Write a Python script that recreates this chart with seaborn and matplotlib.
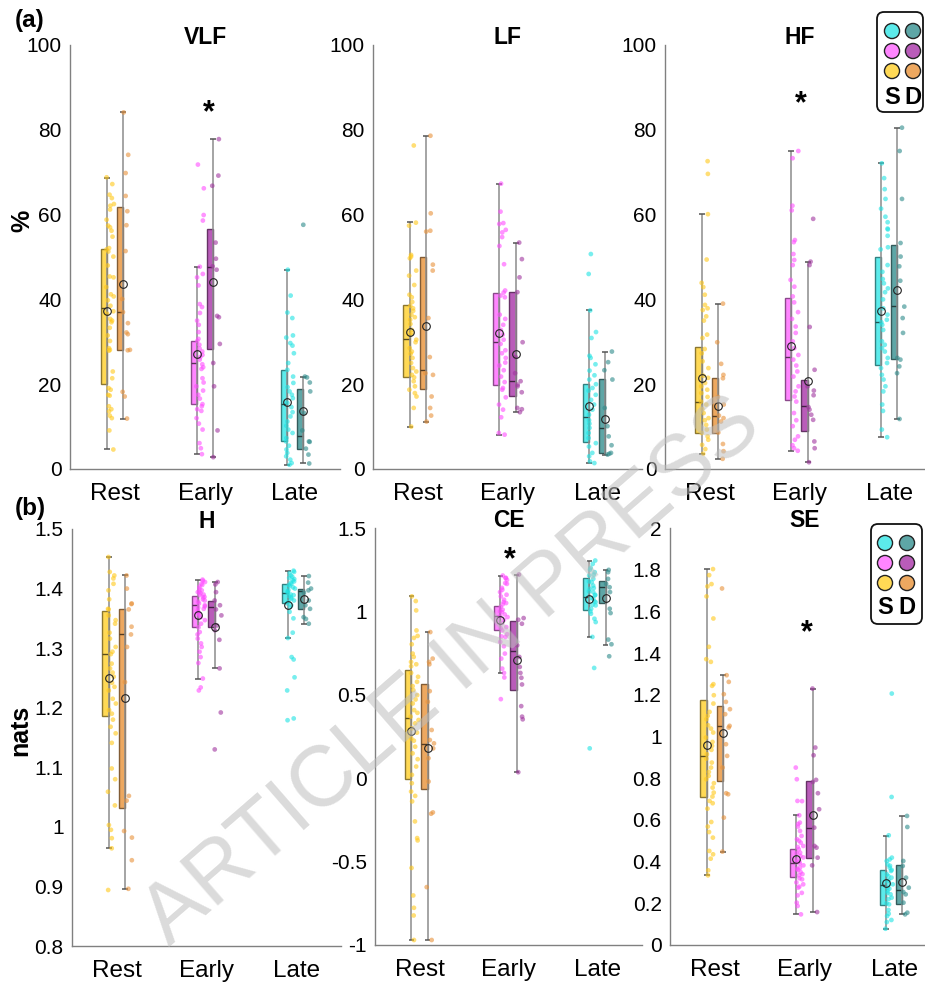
import numpy as np
import pandas as pd
import matplotlib
matplotlib.use("Agg")
import matplotlib.pyplot as plt
from matplotlib.patches import FancyBboxPatch
from matplotlib.ticker import FixedLocator, FuncFormatter
from matplotlib.colors import to_rgb
import seaborn as sns

sns.set_style("white")
plt.rcParams["font.family"] = ["Liberation Sans", "DejaVu Sans"]
plt.rcParams["text.color"] = "black"
plt.rcParams["axes.labelcolor"] = "black"
plt.rcParams["axes.titlecolor"] = "black"

PHASES = ["Rest", "Early", "Late"]
CONDS = ["S", "D"]
GROUPS = [f"{p} {c}" for p in PHASES for c in CONDS]

# ---------------- individual observations ----------------
vlf_rest_s = [68.8, 67.2, 64.7, 63.9, 62.5, 62.1, 61.2, 58.8, 57.4, 57.0, 56.2, 54.8, 52.1, 51.8, 51.3, 50.1,
              48.0, 45.4, 45.2, 42.9, 41.2, 40.7, 39.8, 38.5, 37.2, 36.6, 35.4, 35.0, 34.6, 33.3, 31.5, 30.2,
              28.5, 28.1, 27.9, 23.0, 21.4, 19.1, 18.7, 17.5, 17.3, 14.8, 14.1, 13.6, 12.6, 12.0, 9.1, 4.6]
vlf_rest_d = [84.1, 74.1, 69.8, 64.4, 60.8, 57.5, 51.4, 40.1, 37.0, 34.4, 32.2, 31.8, 28.1, 28.0, 18.2, 17.1, 11.9]
vlf_early_s = [71.8, 66.2, 59.9, 58.6, 47.7, 46.0, 45.2, 43.3, 38.9, 38.2, 36.8, 35.0, 34.0, 32.3, 30.7, 30.2,
               29.3, 28.4, 27.7, 26.9, 26.4, 25.8, 24.7, 24.0, 23.6, 21.4, 20.4, 19.5, 18.5, 17.5, 16.6, 15.3,
               14.8, 14.1, 13.7, 12.0, 10.7, 9.3, 6.1, 4.9, 3.5]
vlf_early_d = [77.8, 69.2, 66.8, 53.4, 49.6, 47.8, 47.0, 36.1, 35.8, 29.5, 25.0, 19.5, 9.1, 2.8]
vlf_late_s = [47.0, 40.9, 36.9, 35.6, 31.5, 31.0, 29.7, 29.1, 27.3, 25.0, 23.4, 21.8, 20.3, 19.3, 18.3, 17.5,
              16.7, 15.6, 14.6, 13.4, 12.4, 11.2, 10.2, 9.3, 8.5, 7.3, 6.5, 5.5, 4.6, 3.8, 3.0, 2.2, 1.4, 1.0]
vlf_late_d = [57.6, 21.8, 21.6, 20.4, 18.3, 13.2, 9.1, 6.5, 6.4, 4.8, 3.4, 1.3]

lf_rest_s = [76.3, 58.1, 57.4, 50.5, 50.1, 49.7, 46.8, 45.6, 43.4, 41.1, 40.5, 39.4, 38.5, 37.9, 37.3, 36.4,
             35.8, 35.2, 34.2, 32.8, 32.1, 31.7, 30.5, 29.9, 28.5, 27.7, 27.2, 26.2, 25.0, 23.8, 23.0, 22.2,
             21.6, 20.7, 19.5, 18.7, 17.9, 17.1, 14.4, 10.0]
lf_rest_d = [78.6, 60.3, 56.2, 56.0, 48.2, 46.8, 35.6, 26.4, 22.6, 22.2, 17.1, 14.4, 12.6, 11.2]
lf_early_s = [67.3, 60.7, 58.0, 57.8, 56.4, 55.8, 54.7, 52.6, 48.3, 42.1, 41.6, 40.9, 40.5, 36.4, 35.4, 34.0,
              32.8, 31.7, 30.5, 29.5, 28.0, 27.3, 26.2, 25.1, 24.4, 23.3, 21.8, 20.5, 19.1, 18.7, 16.9, 15.2,
              14.0, 12.2, 8.5, 8.1]
lf_early_d = [53.4, 49.5, 45.2, 41.7, 29.9, 26.4, 22.6, 20.7, 19.9, 19.5, 18.1, 14.4, 14.1, 13.4]
lf_late_s = [50.7, 46.0, 37.4, 32.3, 30.9, 26.7, 26.2, 24.7, 23.2, 22.1, 21.1, 20.0, 19.1, 18.5, 17.5, 16.3,
             15.2, 14.0, 12.8, 11.5, 10.7, 9.7, 8.5, 7.3, 6.1, 5.3, 3.8, 3.0, 1.8, 1.4]
lf_late_d = [27.7, 25.2, 23.3, 21.1, 14.4, 10.1, 7.7, 5.6, 3.8, 3.6, 3.4]

hf_rest_s = [72.6, 69.6, 60.1, 49.4, 43.9, 42.9, 41.1, 38.7, 37.9, 37.5, 36.0, 35.0, 31.7, 30.9, 28.3, 27.3,
             25.4, 23.8, 22.0, 21.5, 20.3, 19.5, 18.7, 17.9, 17.0, 15.9, 15.2, 14.1, 13.2, 12.0, 11.5, 10.4,
             9.3, 8.5, 7.7, 6.9, 5.7, 4.7, 3.6]
hf_rest_d = [39.0, 29.9, 24.8, 22.2, 21.4, 17.0, 15.2, 12.6, 12.0, 11.2, 8.6, 5.9, 4.2, 2.4]
hf_early_s = [75.0, 73.3, 62.1, 61.0, 54.0, 53.5, 50.7, 49.3, 48.1, 44.6, 43.0, 40.7, 39.3, 37.0, 35.4, 33.6,
              32.1, 30.1, 28.5, 26.9, 25.8, 24.4, 23.0, 21.8, 19.5, 18.3, 17.1, 15.9, 13.2, 11.5, 10.1, 7.7,
              6.9, 5.6, 4.9, 4.3]
hf_early_d = [59.0, 48.9, 48.1, 33.5, 23.4, 19.5, 18.5, 17.4, 14.6, 14.0, 12.8, 11.6, 6.5, 4.9, 1.6]
hf_late_s = [72.1, 68.6, 66.0, 63.7, 61.4, 59.5, 58.2, 56.7, 56.5, 55.0, 52.3, 51.8, 48.1, 46.5, 44.8, 43.8,
             42.6, 41.7, 40.0, 37.9, 36.4, 35.2, 34.6, 34.0, 32.8, 30.1, 29.3, 28.5, 27.7, 26.2, 25.0, 23.8,
             22.2, 21.1, 19.5, 18.3, 15.2, 13.7, 9.3, 7.5]
hf_late_d = [80.5, 75.0, 63.7, 53.3, 50.1, 47.8, 44.4, 38.3, 35.6, 32.1, 26.2, 25.8, 24.2, 22.6, 11.8]

h_rest_s = [1.453, 1.428, 1.422, 1.417, 1.408, 1.397, 1.382, 1.366, 1.365, 1.355, 1.347, 1.341, 1.326, 1.316,
            1.302, 1.294, 1.290, 1.274, 1.266, 1.259, 1.252, 1.242, 1.235, 1.229, 1.215, 1.207, 1.196, 1.190,
            1.180, 1.168, 1.157, 1.141, 1.098, 1.080, 1.059, 1.036, 1.003, 0.995, 0.981, 0.964, 0.894]
h_rest_d = [1.422, 1.400, 1.375, 1.374, 1.365, 1.336, 1.323, 1.302, 1.243, 1.052, 1.044, 0.993, 0.982, 0.944, 0.896]
h_early_s = [1.415, 1.413, 1.411, 1.408, 1.406, 1.403, 1.400, 1.397, 1.395, 1.394, 1.392, 1.390, 1.389, 1.386,
             1.385, 1.382, 1.380, 1.378, 1.375, 1.372, 1.370, 1.368, 1.366, 1.363, 1.360, 1.358, 1.355, 1.352,
             1.347, 1.341, 1.335, 1.327, 1.323, 1.316, 1.308, 1.302, 1.294, 1.285, 1.275, 1.249, 1.234, 1.229]
h_early_d = [1.411, 1.407, 1.394, 1.380, 1.372, 1.365, 1.355, 1.338, 1.330, 1.314, 1.266, 1.192, 1.130]
h_late_s = [1.430, 1.428, 1.426, 1.422, 1.420, 1.418, 1.416, 1.414, 1.412, 1.410, 1.408, 1.406, 1.404, 1.402,
            1.400, 1.397, 1.395, 1.393, 1.390, 1.389, 1.387, 1.385, 1.383, 1.380, 1.378, 1.375, 1.372, 1.369,
            1.361, 1.350, 1.326, 1.317, 1.285, 1.281, 1.251, 1.229, 1.182, 1.179]
h_late_d = [1.421, 1.410, 1.400, 1.397, 1.393, 1.380, 1.372, 1.366, 1.352, 1.349, 1.341]

ce_rest_s = [1.090, 1.062, 1.006, 0.886, 0.853, 0.841, 0.803, 0.747, 0.727, 0.697, 0.683, 0.671, 0.631, 0.608,
             0.578, 0.552, 0.528, 0.498, 0.472, 0.448, 0.408, 0.392, 0.369, 0.349, 0.329, 0.299, 0.273, 0.239,
             0.225, 0.189, 0.149, 0.114, 0.070, 0.020, -0.030, -0.080, -0.106, -0.139, -0.259, -0.359, -0.373,
             -0.538, -0.703, -0.777, -0.823, -0.970]
ce_rest_d = [0.876, 0.717, 0.697, 0.683, 0.522, 0.458, 0.289, 0.229, 0.209, 0.179, 0.120, -0.020, -0.205,
             -0.213, -0.653, -0.970]
ce_early_s = [1.215, 1.201, 1.200, 1.189, 1.170, 1.165, 1.141, 1.130, 1.116, 1.100, 1.090, 1.070, 1.056, 1.050,
              1.042, 1.026, 1.010, 1.000, 0.996, 0.982, 0.970, 0.966, 0.950, 0.930, 0.906, 0.900, 0.886, 0.863,
              0.850, 0.847, 0.817, 0.791, 0.747, 0.717, 0.657, 0.631, 0.604, 0.474]
ce_early_d = [1.221, 0.960, 0.950, 0.926, 0.797, 0.727, 0.667, 0.631, 0.602, 0.562, 0.432, 0.369, 0.353, 0.036]
ce_late_s = [1.305, 1.285, 1.261, 1.250, 1.235, 1.220, 1.215, 1.195, 1.180, 1.175, 1.155, 1.140, 1.135, 1.120,
             1.116, 1.100, 1.096, 1.080, 1.076, 1.060, 1.056, 1.040, 1.036, 1.016, 1.000, 0.986, 0.956, 0.936,
             0.847, 0.661, 0.179]
ce_late_d = [1.249, 1.235, 1.195, 1.165, 1.145, 1.116, 1.016, 0.990, 0.831, 0.803, 0.731]

se_rest_s = [1.803, 1.774, 1.731, 1.720, 1.672, 1.566, 1.430, 1.371, 1.358, 1.251, 1.243, 1.198, 1.158, 1.118,
             1.099, 1.083, 1.054, 1.038, 1.019, 0.995, 0.974, 0.955, 0.936, 0.915, 0.894, 0.875, 0.851, 0.830,
             0.811, 0.795, 0.776, 0.755, 0.731, 0.712, 0.691, 0.680, 0.654, 0.590, 0.568, 0.542, 0.515, 0.451,
             0.435, 0.414, 0.358, 0.334]
se_rest_d = [1.710, 1.294, 1.262, 1.203, 1.166, 1.131, 1.107, 1.051, 1.043, 0.963, 0.907, 0.851, 0.728, 0.723,
             0.611, 0.448]
se_early_s = [0.851, 0.795, 0.691, 0.690, 0.622, 0.587, 0.580, 0.568, 0.547, 0.523, 0.507, 0.500, 0.491, 0.475,
              0.470, 0.459, 0.443, 0.440, 0.427, 0.420, 0.411, 0.400, 0.398, 0.390, 0.382, 0.370, 0.366, 0.360,
              0.350, 0.340, 0.334, 0.320, 0.315, 0.300, 0.291, 0.280, 0.275, 0.250, 0.238, 0.203, 0.187, 0.147]
se_early_d = [1.230, 0.947, 0.910, 0.792, 0.782, 0.728, 0.651, 0.563, 0.475, 0.467, 0.419, 0.382, 0.158]
se_late_s = [1.206, 0.710, 0.526, 0.419, 0.410, 0.403, 0.387, 0.380, 0.371, 0.360, 0.355, 0.339, 0.330, 0.323,
             0.310, 0.307, 0.291, 0.290, 0.275, 0.270, 0.259, 0.250, 0.243, 0.227, 0.220, 0.200, 0.195, 0.168,
             0.150, 0.139, 0.120, 0.110, 0.078]
se_late_d = [0.619, 0.566, 0.403, 0.379, 0.323, 0.275, 0.254, 0.243, 0.203, 0.155, 0.147]

# ---------------- box summaries (order: Rest S, Rest D, Early S, Early D, Late S, Late D) ----------------
vlf_q1 = [20.1, 28.1, 15.3, 28.4, 6.5, 4.8]
vlf_med = [37.9, 37.0, 25.0, 47.6, 15.4, 7.9]
vlf_q3 = [51.8, 61.7, 30.1, 56.7, 23.4, 18.9]
vlf_lo = [4.6, 11.9, 3.5, 2.8, 1.0, 1.3]
vlf_hi = [68.7, 84.1, 47.7, 77.8, 47.0, 21.8]
vlf_mean = [37.3, 43.6, 27.2, 44.0, 15.9, 13.7]

lf_q1 = [21.8, 18.9, 19.8, 17.1, 6.3, 3.8]
lf_med = [30.6, 23.4, 29.9, 20.7, 12.2, 9.7]
lf_q3 = [38.6, 50.1, 41.5, 41.7, 20.0, 21.2]
lf_lo = [10.0, 11.2, 8.1, 13.4, 1.4, 3.4]
lf_hi = [58.2, 78.6, 67.3, 53.4, 37.4, 27.7]
lf_mean = [32.2, 33.8, 32.0, 27.2, 14.8, 11.9]

hf_q1 = [8.5, 8.5, 16.3, 8.9, 24.6, 25.9]
hf_med = [15.9, 12.4, 26.3, 14.9, 34.6, 38.5]
hf_q3 = [28.7, 21.4, 40.3, 21.1, 49.9, 52.9]
hf_lo = [3.6, 2.4, 4.3, 1.6, 7.5, 11.8]
hf_hi = [60.1, 39.0, 75.0, 48.9, 72.1, 80.5]
hf_mean = [21.4, 14.8, 29.1, 20.7, 37.2, 42.1]

h_q1 = [1.186, 1.031, 1.335, 1.335, 1.375, 1.366]
h_med = [1.291, 1.323, 1.372, 1.369, 1.392, 1.396]
h_q3 = [1.362, 1.366, 1.388, 1.379, 1.407, 1.399]
h_lo = [0.964, 0.896, 1.249, 1.266, 1.317, 1.341]
h_hi = [1.453, 1.422, 1.415, 1.411, 1.430, 1.421]
h_mean = [1.250, 1.217, 1.355, 1.336, 1.372, 1.383]

ce_q1 = [-0.006, -0.066, 0.886, 0.528, 1.006, 1.050]
ce_med = [0.363, 0.205, 0.970, 0.763, 1.086, 1.145]
ce_q3 = [0.651, 0.562, 1.032, 0.942, 1.199, 1.181]
ce_lo = [-0.970, -0.970, 0.631, 0.036, 0.847, 0.801]
ce_hi = [1.090, 0.876, 1.215, 1.221, 1.301, 1.249]
ce_mean = [0.281, 0.183, 0.946, 0.711, 1.074, 1.082]

se_q1 = [0.712, 0.787, 0.326, 0.419, 0.192, 0.198]
se_med = [0.907, 1.048, 0.392, 0.563, 0.288, 0.262]
se_q3 = [1.176, 1.147, 0.462, 0.787, 0.360, 0.384]
se_lo = [0.334, 0.448, 0.147, 0.158, 0.078, 0.147]
se_hi = [1.803, 1.294, 0.622, 1.230, 0.523, 0.619]
se_mean = [0.958, 1.018, 0.411, 0.622, 0.299, 0.302]

# ---------------- styling ----------------
FILL = {"Rest S": "#FFD955", "Rest D": "#EDA860", "Early S": "#FF85FF",
        "Early D": "#B95CB9", "Late S": "#5CEBEB", "Late D": "#5EA6A6"}
DOT = {"Rest S": "#FFC81A", "Rest D": "#E8923A", "Early S": "#FF4DFF",
       "Early D": "#A0359F", "Late S": "#1EE3E3", "Late D": "#2E8B8B"}
AXIS_GRAY = "#808080"

W, H = 925, 983
fig = plt.figure(figsize=(W / 100, H / 100), dpi=100)
fig.patch.set_facecolor("white")


def rect(l, t, r, b):
    return [l / W, 1 - b / H, (r - l) / W, (b - t) / H]


OFF = {"S": -0.09, "D": 0.09}
BOX_W = 0.07
CAP = 0.033
DOT_SHIFT = 0.035


def darker(c, f=0.6):
    return tuple(np.array(to_rgb(c)) * f)


def fmt(v, _):
    return f"{v:g}"


def panel(ax, title, samples, q1, med, q3, lo, hi, mean, ylim, major, minor, star):
    for k, g in enumerate(GROUPS):
        phase, cond = g.split()
        pos = PHASES.index(phase) + OFF[cond]
        stats = dict(q1=q1[k], med=med[k], q3=q3[k], whislo=lo[k], whishi=hi[k], fliers=[])
        ax.bxp([stats], positions=[pos - BOX_W / 2], widths=BOX_W, showcaps=False,
               showfliers=False, patch_artist=True, manage_ticks=False,
               boxprops=dict(facecolor=FILL[g], edgecolor=darker(FILL[g], 0.55), linewidth=1.0),
               medianprops=dict(color=darker(FILL[g], 0.35), linewidth=1.0),
               whiskerprops=dict(visible=False), zorder=2)
        ax.vlines(pos, lo[k], hi[k], colors="#8c8c8c", linewidth=1.1, zorder=2.5)
        ax.hlines([lo[k], hi[k]], pos - CAP, pos + CAP, colors="#555555", linewidth=1.1, zorder=2.5)
        ax.plot([pos], [mean[k]], marker="o", ms=5.5, mfc="none", mec="#222222", mew=0.8, zorder=5)

    rows = []
    for g, vals in zip(GROUPS, samples):
        phase, cond = g.split()
        x = PHASES.index(phase) + OFF[cond] + DOT_SHIFT
        rows += [(x, v, g) for v in vals]
    df = pd.DataFrame(rows, columns=["x", "value", "group"])
    sns.stripplot(data=df, x="x", y="value", hue="group", hue_order=GROUPS, palette=DOT,
                  native_scale=True, orient="x", jitter=0.25, size=3.4, alpha=0.6,
                  linewidth=0, legend=False, ax=ax, zorder=3)

    ax.set_xlim(-0.5, 2.5)
    ax.set_xticks(range(len(PHASES)))
    ax.set_xticklabels(PHASES)
    ax.set_ylim(*ylim)
    ax.yaxis.set_major_locator(FixedLocator(major))
    ax.yaxis.set_major_formatter(FuncFormatter(fmt))
    if minor:
        ax.yaxis.set_minor_locator(FixedLocator(minor))
    ax.set_xlabel("")
    ax.set_ylabel("")
    for s in ("top", "right"):
        ax.spines[s].set_visible(False)
    for s in ("left", "bottom"):
        ax.spines[s].set_color(AXIS_GRAY)
        ax.spines[s].set_linewidth(1.0)
    ax.tick_params(axis="both", which="both", direction="in", color=AXIS_GRAY, width=0.9)
    ax.tick_params(axis="both", which="major", length=5)
    ax.tick_params(axis="y", which="minor", length=4)
    ax.tick_params(axis="y", labelsize=15, pad=6, labelcolor="black")
    ax.tick_params(axis="x", labelsize=17.5, pad=10, labelcolor="black")
    ax.set_title(title, fontsize=16.5, fontweight="bold", pad=1, color="black")
    if star is not None:
        ax.text(star[0], star[1], "*", ha="center", va="center", fontsize=22,
                fontweight="bold", color="black")


pct_major = [0, 20, 40, 60, 80, 100]
pct_minor = [10, 30, 50, 70, 90]

panels = [
    ("VLF", [vlf_rest_s, vlf_rest_d, vlf_early_s, vlf_early_d, vlf_late_s, vlf_late_d],
     (vlf_q1, vlf_med, vlf_q3, vlf_lo, vlf_hi, vlf_mean), (0, 100), pct_major, pct_minor,
     (1.045, 83.8), (70, 45, 340, 469)),
    ("LF", [lf_rest_s, lf_rest_d, lf_early_s, lf_early_d, lf_late_s, lf_late_d],
     (lf_q1, lf_med, lf_q3, lf_lo, lf_hi, lf_mean), (0, 100), pct_major, pct_minor,
     None, (373, 45, 642, 469)),
    ("HF", [hf_rest_s, hf_rest_d, hf_early_s, hf_early_d, hf_late_s, hf_late_d],
     (hf_q1, hf_med, hf_q3, hf_lo, hf_hi, hf_mean), (0, 100), pct_major, pct_minor,
     (1.01, 86.0), (665, 45, 934, 469)),
    ("H", [h_rest_s, h_rest_d, h_early_s, h_early_d, h_late_s, h_late_d],
     (h_q1, h_med, h_q3, h_lo, h_hi, h_mean), (0.8, 1.5),
     [0.8, 0.9, 1.0, 1.1, 1.2, 1.3, 1.4, 1.5], None, None, (72, 529, 341, 946)),
    ("CE", [ce_rest_s, ce_rest_d, ce_early_s, ce_early_d, ce_late_s, ce_late_d],
     (ce_q1, ce_med, ce_q3, ce_lo, ce_hi, ce_mean), (-1, 1.5),
     [-1, -0.5, 0, 0.5, 1, 1.5], None, (1.02, 1.308), (375, 528, 642, 945)),
    ("SE", [se_rest_s, se_rest_d, se_early_s, se_early_d, se_late_s, se_late_d],
     (se_q1, se_med, se_q3, se_lo, se_hi, se_mean), (0, 2),
     [0, 0.2, 0.4, 0.6, 0.8, 1.0, 1.2, 1.4, 1.6, 1.8, 2.0], None, (1.03, 1.496), (670, 528, 939, 945)),
]

np.random.seed(7)
for title, samples, st, ylim, major, minor, star, box in panels:
    ax = fig.add_axes(rect(*box))
    panel(ax, title, samples, *st, ylim, major, minor, star)

# ---------------- figure-level annotations (pixel coordinates) ----------------
over = fig.add_axes([0, 0, 1, 1], zorder=10)
over.set_xlim(0, W)
over.set_ylim(H, 0)
over.axis("off")

over.text(30, 21, "(a)", ha="center", va="center", fontsize=17.5, fontweight="bold")
over.text(30, 508, "(b)", ha="center", va="center", fontsize=17.5, fontweight="bold")
over.text(22, 221, "%", ha="center", va="center", rotation=90, fontsize=18, fontweight="bold")
over.text(20, 730, "nats", ha="center", va="center", rotation=90, fontsize=18, fontweight="bold")

KEY_ROWS = [("Late S", "Late D"), ("Early S", "Early D"), ("Rest S", "Rest D")]


def draw_key(left, top, right, bottom, xs, ys, ylab):
    over.add_patch(FancyBboxPatch((left, top), right - left, bottom - top,
                                  boxstyle="round,pad=0,rounding_size=7",
                                  facecolor="white", edgecolor="#111111", linewidth=1.3))
    for (gs, gd), y in zip(KEY_ROWS, ys):
        over.scatter([xs[0], xs[1]], [y, y], s=118, c=[FILL[gs], FILL[gd]],
                     edgecolors="#222222", linewidths=1.0, zorder=3)
    over.text(xs[0], ylab, "S", ha="center", va="center", fontsize=17, fontweight="bold")
    over.text(xs[1], ylab, "D", ha="center", va="center", fontsize=17, fontweight="bold")


draw_key(877, 12, 923, 112, (892, 913), (31, 51, 71), 97)
draw_key(871, 524, 922, 624, (885, 907), (543, 563, 583), 608)

over.text(452, 672, "ARTICLE IN PRESS", ha="center", va="center", rotation=41,
          rotation_mode="anchor", fontsize=62, color="#BDBDBD", alpha=0.55, zorder=20)

fig.savefig("out.png", dpi=100, facecolor="white")
